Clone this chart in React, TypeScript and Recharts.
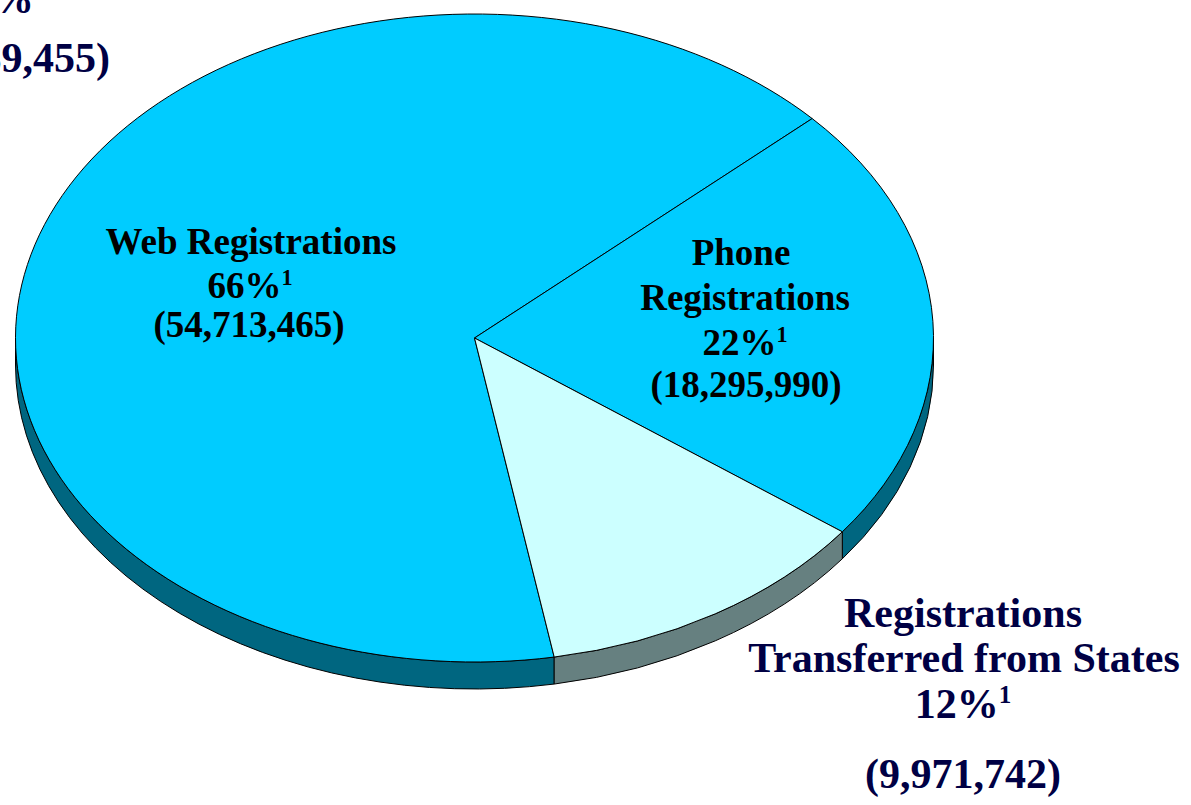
import { PieChart, Pie, Cell } from "recharts";

const categories = ["Web Registrations", "Phone Registrations", "Registrations Transferred from States"];
const counts = [54713465, 18295990, 9971742];
const percents = ["66%", "22%", "12%"];
const footnote = "1";
const totalPercent = "100%";
const totalCount = 82989455;

const topColors = ["#00CCFF", "#00CCFF", "#CCFFFF"];
const sideColors = ["#006680", "#006680", "#668080"];

const RAD = Math.PI / 180;
const TILT = 324 / 459; // ellipse squash for the tilted pie
const DEPTH = 27;
const FONT = "'Liberation Serif', 'Times New Roman', serif";

const data = categories.map((name, i) => ({ name, value: counts[i] }));
const fmt = (n: number) => `(${n.toLocaleString("en-US")})`;

function pt(cx: number, cy: number, r: number, a: number) {
  return [cx + r * Math.cos(a * RAD), cy - r * TILT * Math.sin(a * RAD)];
}

// flat top of each slice, drawn as an elliptical sector
function TopFace(props: any) {
  const { cx, cy, outerRadius: r, startAngle, endAngle, fill } = props;
  const [x1, y1] = pt(cx, cy, r, startAngle);
  const [x2, y2] = pt(cx, cy, r, endAngle);
  const sweep = startAngle > endAngle ? 1 : 0;
  const large = Math.abs(endAngle - startAngle) > 180 ? 1 : 0;
  const d = `M${cx},${cy}L${x1},${y1}A${r},${r * TILT} 0 ${large} ${sweep} ${x2},${y2}Z`;
  return <path d={d} fill={fill} stroke="#000" strokeWidth={1} />;
}

// visible front wall of each slice
function SideWall(props: any) {
  const { cx, cy, outerRadius: r, startAngle, endAngle, fill } = props;
  const lo = Math.min(startAngle, endAngle);
  const hi = Math.max(startAngle, endAngle);
  const ry = r * TILT;
  const paths: string[] = [];
  for (let k = -1; k <= 1; k++) {
    const a = Math.max(lo, 180 + 360 * k);
    const b = Math.min(hi, 360 + 360 * k);
    if (b - a > 0.01) {
      const [x1, y1] = pt(cx, cy, r, a);
      const [x2, y2] = pt(cx, cy, r, b);
      paths.push(
        `M${x1},${y1}A${r},${ry} 0 0 0 ${x2},${y2}L${x2},${y2 + DEPTH}A${r},${ry} 0 0 1 ${x1},${y1 + DEPTH}Z`
      );
    }
  }
  return (
    <g>
      {paths.map((d) => (
        <path key={d} d={d} fill={fill} stroke="#000" strokeWidth={1} />
      ))}
    </g>
  );
}

function Line({ x, y, text, sup, size, color, anchor = "middle" }: any) {
  return (
    <text x={x} y={y} textAnchor={anchor} fontFamily={FONT} fontWeight="bold" fontSize={size} fill={color}>
      {text}
      {sup && (
        <tspan fontSize={size * 0.6} dy={-size * 0.36}>
          {sup}
        </tspan>
      )}
    </text>
  );
}

export default function App() {
  const inner = 37;
  const outer = 42;
  const navy = "#000044";
  return (
    <div style={{ position: "absolute", left: 0, top: 0, width: 1191, height: 805, background: "#fff" }}>
      <PieChart width={1191} height={805}>
        <Pie
          data={data}
          dataKey="value"
          cx={469.5}
          cy={333}
          outerRadius={459}
          startAngle={280}
          endAngle={-80}
          shape={SideWall}
          stroke="none"
          legendType="none"
          isAnimationActive={false}
        >
          {data.map((d, i) => (
            <Cell key={`side-${d.name}`} fill={sideColors[i]} />
          ))}
        </Pie>
        <Pie
          data={data}
          dataKey="value"
          cx={469.5}
          cy={333}
          outerRadius={459}
          startAngle={280}
          endAngle={-80}
          shape={TopFace}
          stroke="none"
          legendType="none"
          isAnimationActive={false}
        >
          {data.map((d, i) => (
            <Cell key={`top-${d.name}`} fill={topColors[i]} />
          ))}
        </Pie>
      </PieChart>
      <svg width={1191} height={805} style={{ position: "absolute", left: 0, top: 0, pointerEvents: "none" }}>
        {/* total, cut off at the top left */}
        <Line x={34} y={13} text={totalPercent} size={outer} color={navy} anchor="end" />
        <Line x={110} y={72} text={fmt(totalCount)} size={outer} color={navy} anchor="end" />

        {/* web */}
        <Line x={251} y={254} text={categories[0]} size={inner} color="#000" />
        <Line x={250} y={298} text={percents[0]} sup={footnote} size={inner} color="#000" />
        <Line x={249} y={337} text={fmt(counts[0])} size={inner} color="#000" />

        {/* phone */}
        <Line x={741} y={265} text="Phone" size={inner} color="#000" />
        <Line x={745} y={310} text="Registrations" size={inner} color="#000" />
        <Line x={745} y={355} text={percents[1]} sup={footnote} size={inner} color="#000" />
        <Line x={746} y={397} text={fmt(counts[1])} size={inner} color="#000" />

        {/* transferred */}
        <Line x={963} y={627} text="Registrations" size={outer} color={navy} />
        <Line x={964} y={672} text="Transferred from States" size={outer} color={navy} />
        <Line x={963} y={718} text={percents[2]} sup={footnote} size={outer} color={navy} />
        <Line x={963} y={788} text={fmt(counts[2])} size={outer} color={navy} />
      </svg>
    </div>
  );
}
